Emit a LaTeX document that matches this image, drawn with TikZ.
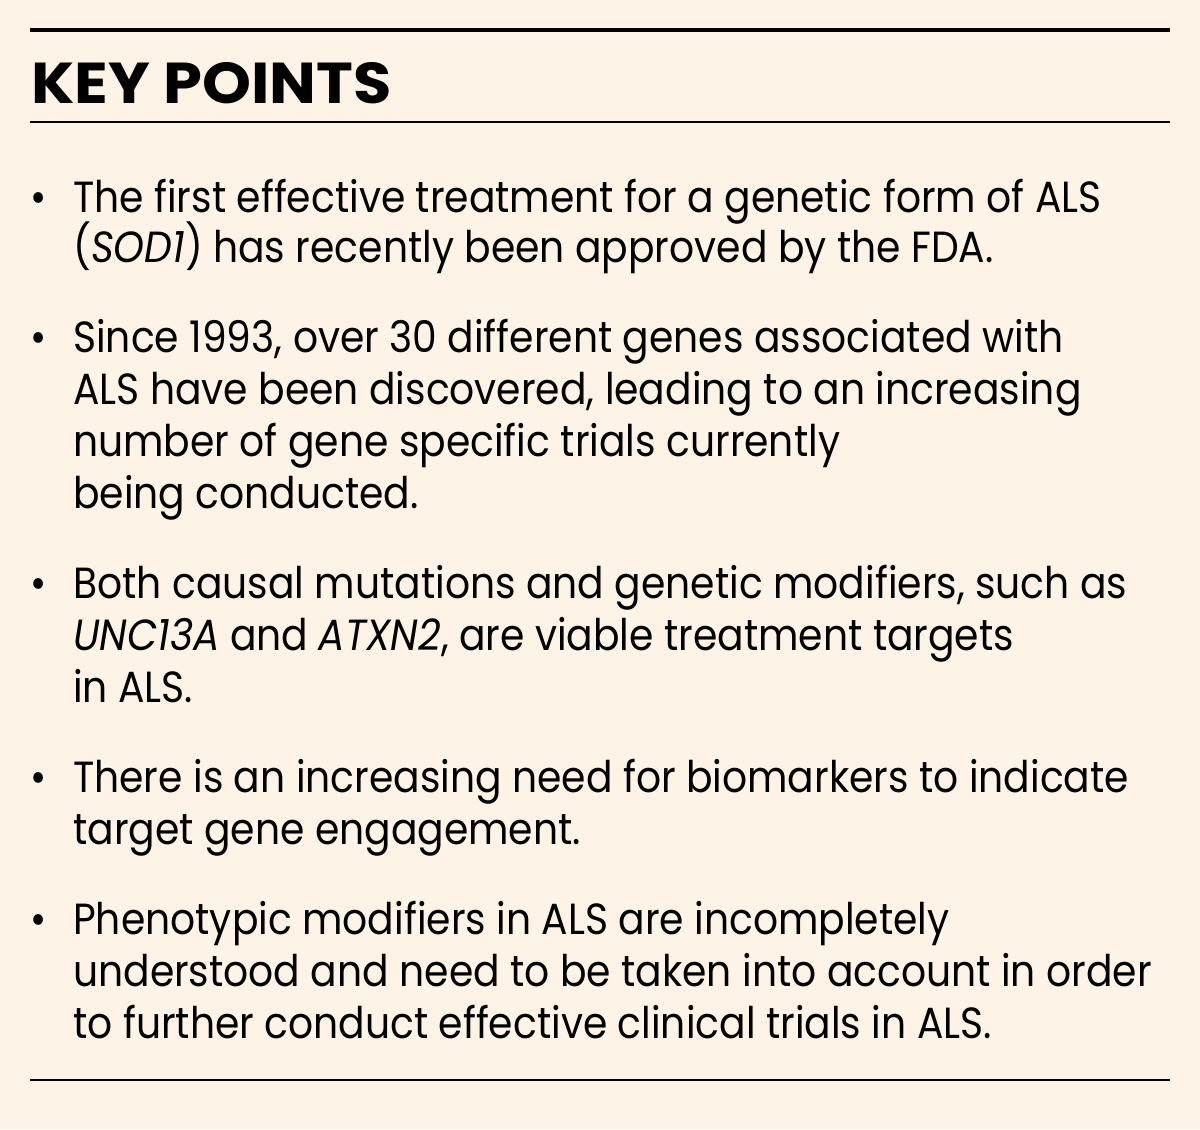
\documentclass[tikz,border=0pt]{standalone}
\usepackage{fontspec}
\setmainfont{Poppins}[FakeStretch=0.9]
\newfontfamily\titlefont{Poppins}[FakeStretch=1.08]
\definecolor{boxbg}{HTML}{FDF3E6}
\begin{document}
\begin{tikzpicture}[x=0.025cm, y=-0.025cm,
    txt/.style={anchor=base west, inner sep=0pt, font=\fontsize{31pt}{37pt}\selectfont},
    bul/.style={anchor=base west, inner sep=0pt, font=\fontsize{31pt}{37pt}\selectfont}]
  \fill[boxbg] (0,0) rectangle (1200,1129);
  \useasboundingbox (0,0) rectangle (1200,1129);
  \coordinate (tl) at (30,30);
  \coordinate (tr) at (1170,30);
  \coordinate (ml) at (30,122);
  \coordinate (mr) at (1170,122);
  \coordinate (bl) at (30,1080);
  \coordinate (br) at (1170,1080);
  \draw[line width=2.2pt] (tl) -- (tr);
  \draw[line width=1pt] (ml) -- (mr);
  \draw[line width=1pt] (bl) -- (br);
  \node[anchor=base west, inner sep=0pt, font=\titlefont\fontsize{41pt}{46pt}\selectfont\bfseries] (title) at (31,104) {KEY POINTS};
  % bullets
  \foreach \y in {212,352,598,792,934}
    \node[bul] at (30,\y) {•};
  \node[txt] (a1) at (73,212) {The first effective treatment for a genetic form of ALS};
  \node[txt] (a2) at (73,262) {(\textit{SOD1}) has recently been approved by the FDA.};
  \node[txt] (b1) at (73,352) {Since 1993, over 30 different genes associated with};
  \node[txt] (b2) at (73,404) {ALS have been discovered, leading to an increasing};
  \node[txt] (b3) at (73,456) {number of gene specific trials currently};
  \node[txt] (b4) at (73,508) {being conducted.};
  \node[txt] (c1) at (73,598) {Both causal mutations and genetic modifiers, such as};
  \node[txt] (c2) at (73,650) {\textit{UNC13A} and \textit{ATXN2}, are viable treatment targets};
  \node[txt] (c3) at (73,702) {in ALS.};
  \node[txt] (d1) at (73,792) {There is an increasing need for biomarkers to indicate};
  \node[txt] (d2) at (73,844) {target gene engagement.};
  \node[txt] (e1) at (73,934) {Phenotypic modifiers in ALS are incompletely};
  \node[txt] (e2) at (73,986) {understood and need to be taken into account in order};
  \node[txt] (e3) at (73,1038) {to further conduct effective clinical trials in ALS.};
\end{tikzpicture}
\end{document}
